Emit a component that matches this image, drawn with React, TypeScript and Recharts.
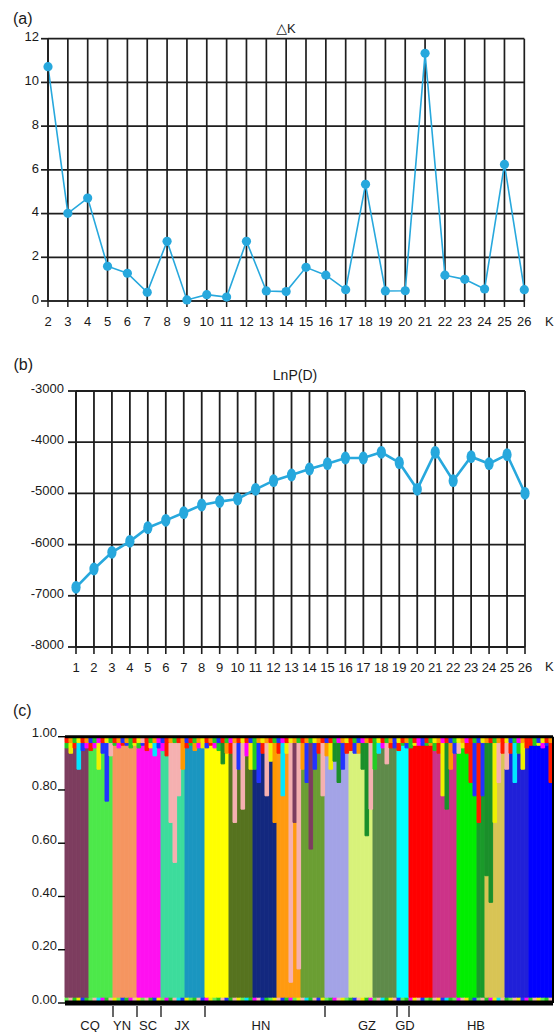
import React from "react";
import {
  LineChart,
  Line,
  XAxis,
  YAxis,
  CartesianGrid,
  BarChart,
  Bar,
  Cell,
  ReferenceLine,
} from "recharts";

const FONT = '"Liberation Sans", Arial, Helvetica, sans-serif';
const INK = "#1e1e1e";
const BLUE = "#27a8dd";

// ---------- (a) delta K ----------
const kA = [2, 3, 4, 5, 6, 7, 8, 9, 10, 11, 12, 13, 14, 15, 16, 17, 18, 19, 20, 21, 22, 23, 24, 25, 26];
const deltaK = [10.72, 4.01, 4.71, 1.59, 1.27, 0.4, 2.73, 0.05, 0.29, 0.18, 2.73, 0.46, 0.43, 1.54, 1.18, 0.52, 5.34, 0.46, 0.47, 11.33, 1.18, 0.99, 0.55, 6.25, 0.52];
const deltaKTicks = [0, 2, 4, 6, 8, 10, 12];

// ---------- (b) LnP(D) ----------
const kB = [1, 2, 3, 4, 5, 6, 7, 8, 9, 10, 11, 12, 13, 14, 15, 16, 17, 18, 19, 20, 21, 22, 23, 24, 25, 26];
const lnPD = [-6834, -6477, -6150, -5936, -5670, -5526, -5377, -5227, -5160, -5109, -4920, -4752, -4641, -4523, -4420, -4309, -4309, -4197, -4400, -4920, -4197, -4752, -4283, -4420, -4244, -4998];
const lnPTicks = [-8000, -7000, -6000, -5000, -4000, -3000];

// ---------- (c) STRUCTURE bar plot ----------
const clusterColors = ["#7d3d5f", "#4de84a", "#f59560", "#ff10f0", "#3ddc9c", "#1a96c0", "#ffff00", "#56731f", "#13287f", "#ff9a10", "#6b9e33", "#a3a3e6", "#d8f27a", "#5f8a4a", "#00ffff", "#ff0000", "#cc3388", "#00ee00", "#1a9a2a", "#d8c455", "#2020d8", "#0000ff"];
const clusterWidths = [6, 6, 6, 6, 6, 5, 6, 6, 6, 6, 6, 6, 6, 6, 3, 6, 6, 5, 2, 5, 6, 6];
const dripShares = [
  [0.02, 0.04, 0.02, 0.1, 0.03, 0.02],
  [0.03, 0.02, 0.1, 0.04, 0.22, 0.05],
  [0.01, 0.02, 0.01, 0.01, 0.02, 0.01],
  [0.02, 0.01, 0.03, 0.02, 0.05, 0.02],
  [0.03, 0.05, 0.3, 0.45, 0.2, 0.1],
  [0.02, 0.01, 0.03, 0.02, 0.02],
  [0.02, 0.01, 0.02, 0.03, 0.08, 0.04],
  [0.04, 0.3, 0.1, 0.25, 0.05, 0.1],
  [0.1, 0.15, 0.04, 0.2, 0.07, 0.3],
  [0.04, 0.2, 0.04, 0.9, 0.3, 0.85],
  [0.1, 0.15, 0.4, 0.1, 0.04, 0.2],
  [0.05, 0.1, 0.07, 0.15, 0.1, 0.04],
  [0.03, 0.04, 0.04, 0.1, 0.35, 0.25],
  [0.1, 0.04, 0.02, 0.08, 0.02, 0.02],
  [0.03, 0.01, 0.02],
  [0.02, 0.01, 0.01, 0.01, 0.01, 0.01],
  [0.03, 0.04, 0.2, 0.25, 0.1, 0.04],
  [0.04, 0.02, 0.04, 0.15, 0.2],
  [0.3, 0.2],
  [0.5, 0.6, 0.3, 0.15, 0.04],
  [0.1, 0.04, 0.15, 0.04, 0.1, 0.02],
  [0.01, 0.01, 0.01, 0.02, 0.01, 0.15],
];
const dripColors = ["gyrcbm", "rmybbp", "gmrbgy", "gbrycb", "mrpppo", "rgomy", "brmgko", "rpbpmy", "gbrpyo", "rcypvp", "obvbrp", "oykkbr", "rbokkp", "gcmprb", "rgb", "gymbgo", "grykob", "pyrrb", "rb", "kkypr", "prcgyr", "rgymbr"].join("");
const topColors =
  "rogyrobgmr" + "ygrobogryp" + "rgombrogro" + "brgoyrogbr" + "gmoryrbgoy" + "orgbmryogr" +
  "ogyorbrgmo" + "yrgbmorgyr" + "gobyrogrmb" + "rgyomrbgyo" + "mrgbyorgor" + "ybgmorrgby" + "ro";
const baseColors =
  "lpgybglpcm" + "gpylbgmpyl" + "pgbylmgpcb" + "ylgpbmylgp" + "bgpylcgmpb" + "glypbgmlyp" +
  "cgpbylgmpy" + "lgbpygmlpc" + "gypblgmypb" + "lgpybcglmp" + "ygblpgmycp" + "glpybmgpyl" + "gp";
const noisePalette: Record<string, string> = {
  r: "#ff1a00", g: "#22cc22", y: "#f0f000", b: "#2233ff", m: "#ff00ff", o: "#ff9900",
  p: "#f5b0b0", c: "#00e5ff", v: "#7d3d5f", k: "#1a8f2a", l: "#66ee55", n: "#13287f",
};
const topShare = 0.022;
const baseShare = 0.022;
const structureTicks = [0, 0.2, 0.4, 0.6, 0.8, 1];
const popNames = ["CQ", "YN", "SC", "JX", "HN", "GZ", "GD", "HB"];
const popLabelAt = [6.25, 14.25, 20.75, 29.25, 49, 75.5, 85, 102.75];
const popBreaks = [12, 18, 24, 35, 65, 83, 86];

const deltaKRows = kA.map((k, i) => ({ k, dk: deltaK[i] }));
const lnPRows = kB.map((k, i) => ({ k, lp: lnPD[i] }));

const structureRows: any[] = [];
clusterWidths.forEach((w, ci) => {
  for (let j = 0; j < w; j++) {
    const id = structureRows.length;
    const drip = dripShares[ci][j];
    structureRows.push({
      pos: id + 0.5,
      base: baseShare,
      main: 1 - baseShare - drip - topShare,
      drip,
      top: topShare,
      baseFill: noisePalette[baseColors[id] ?? "g"],
      mainFill: clusterColors[ci],
      dripFill: noisePalette[dripColors[id] ?? "r"],
      topFill: noisePalette[topColors[id] ?? "r"],
    });
  }
});
const nCols = structureRows.length;
const bottomTicks = [...popBreaks, ...popLabelAt].sort((a, b) => a - b);

function tickText(dy: number, fmt?: (v: any) => string) {
  return (p: any) => (
    <text
      x={p.x}
      y={p.y}
      dy={dy}
      textAnchor={p.textAnchor}
      fontSize={13}
      fontFamily={FONT}
      fill="#1a1a1a"
    >
      {fmt ? fmt(p.payload.value) : p.payload.value}
    </text>
  );
}

// population boundary marks and names share the bottom axis
function PopTick(p: any) {
  const v = p.payload.value;
  if (popBreaks.includes(v)) {
    return <line x1={p.x} x2={p.x} y1={p.y + 3} y2={p.y + 14} stroke="#000" strokeWidth={1.2} />;
  }
  return (
    <text x={p.x} y={p.y} dy={27} textAnchor="middle" fontSize={13} fontFamily={FONT} fill="#1a1a1a">
      {popNames[popLabelAt.indexOf(v)]}
    </text>
  );
}

function DeltaKChart() {
  return (
    <LineChart width={556} height={340} data={deltaKRows} margin={{ top: 38.7, right: 31.7, bottom: 0, left: 0 }}>
      <CartesianGrid stroke={INK} strokeWidth={1.7} />
      <XAxis
        dataKey="k"
        type="number"
        domain={[2, 26]}
        ticks={kA}
        interval={0}
        height={39}
        tickSize={6}
        tickMargin={0}
        axisLine={{ stroke: INK, strokeWidth: 1.7 }}
        tickLine={{ stroke: INK, strokeWidth: 1.5 }}
        tick={tickText(18.7)}
      />
      <YAxis
        type="number"
        domain={[0, 12]}
        ticks={deltaKTicks}
        interval={0}
        width={48}
        tickSize={7}
        tickMargin={2}
        axisLine={{ stroke: INK, strokeWidth: 1.7 }}
        tickLine={{ stroke: INK, strokeWidth: 1.7 }}
        tick={tickText(2.7)}
      />
      <Line
        dataKey="dk"
        stroke={BLUE}
        strokeWidth={1.6}
        dot={{ r: 4.6, fill: BLUE, stroke: BLUE, strokeWidth: 0 }}
        activeDot={false}
        isAnimationActive={false}
      />
    </LineChart>
  );
}

function LnPChart() {
  return (
    <LineChart width={556} height={350} data={lnPRows} margin={{ top: 51, right: 31, bottom: 0, left: 0 }}>
      <CartesianGrid stroke={INK} strokeWidth={1.8} />
      <XAxis
        dataKey="k"
        type="number"
        domain={[1, 26]}
        ticks={kB}
        interval={0}
        height={43}
        tickSize={7}
        tickMargin={0}
        axisLine={{ stroke: INK, strokeWidth: 1.8 }}
        tickLine={{ stroke: INK, strokeWidth: 1.6 }}
        tick={tickText(18)}
      />
      <YAxis
        type="number"
        domain={[-8000, -3000]}
        ticks={lnPTicks}
        interval={0}
        width={76}
        tickSize={8}
        tickMargin={4}
        axisLine={{ stroke: INK, strokeWidth: 1.7 }}
        tickLine={{ stroke: INK, strokeWidth: 1.8 }}
        tick={tickText(2)}
      />
      <Line
        dataKey="lp"
        stroke={BLUE}
        strokeWidth={2.6}
        dot={(p: any) => <ellipse key={p.index} cx={p.cx} cy={p.cy} rx={4.6} ry={6.4} fill={BLUE} />}
        activeDot={false}
        isAnimationActive={false}
      />
    </LineChart>
  );
}

function StructureChart() {
  return (
    <BarChart
      width={556}
      height={342}
      data={structureRows}
      margin={{ top: 46.7, right: 0, bottom: 0, left: 0 }}
      barGap={0}
      barCategoryGap={0}
      barSize={5}
    >
      <XAxis
        dataKey="pos"
        type="number"
        domain={[0, nCols]}
        ticks={bottomTicks}
        interval={0}
        height={29}
        tickSize={0}
        tickMargin={0}
        tickLine={false}
        axisLine={{ stroke: "#000", strokeWidth: 5 }}
        tick={PopTick}
      />
      <YAxis
        type="number"
        domain={[0, 1]}
        ticks={structureTicks}
        interval={0}
        width={65}
        tickSize={7}
        tickMargin={1}
        axisLine={false}
        tickLine={{ stroke: "#000", strokeWidth: 1.4 }}
        tick={tickText(0.5, (v) => Number(v).toFixed(2))}
      />
      <YAxis
        yAxisId="r"
        orientation="right"
        type="number"
        domain={[0, 1]}
        width={3}
        tick={false}
        tickLine={false}
        axisLine={{ stroke: "#000", strokeWidth: 2 }}
      />
      <Bar dataKey="base" stackId="s" barSize={5} isAnimationActive={false}>
        {structureRows.map((r, i) => (
          <Cell key={"b" + i} fill={r.baseFill} stroke={r.baseFill} strokeWidth={1} />
        ))}
      </Bar>
      <Bar dataKey="main" stackId="s" barSize={5} isAnimationActive={false}>
        {structureRows.map((r, i) => (
          <Cell key={"m" + i} fill={r.mainFill} stroke={r.mainFill} strokeWidth={1} />
        ))}
      </Bar>
      <Bar dataKey="drip" stackId="s" barSize={5} isAnimationActive={false}>
        {structureRows.map((r, i) => (
          <Cell key={"d" + i} fill={r.dripFill} stroke={r.dripFill} strokeWidth={1} />
        ))}
      </Bar>
      <Bar dataKey="top" stackId="s" barSize={5} isAnimationActive={false}>
        {structureRows.map((r, i) => (
          <Cell key={"t" + i} fill={r.topFill} stroke={r.topFill} strokeWidth={1} />
        ))}
      </Bar>
      <ReferenceLine y={1} stroke="#000" strokeWidth={3} />
    </BarChart>
  );
}

export default function App() {
  return (
    <div style={{ position: "absolute", left: 0, top: 0, width: 556, height: 1032, background: "#fff", fontFamily: FONT }}>
      <div style={{ position: "absolute", left: 0, top: 0 }}>
        <DeltaKChart />
      </div>
      <div style={{ position: "absolute", left: 0, top: 340 }}>
        <LnPChart />
      </div>
      <div style={{ position: "absolute", left: 0, top: 690 }}>
        <StructureChart />
      </div>
      <svg width={556} height={1032} style={{ position: "absolute", left: 0, top: 0, pointerEvents: "none" }}>
        <g fontFamily={FONT} fill="#1a1a1a">
          <text x={13} y={23.5} fontSize={16}>(a)</text>
          <text x={286} y={33.3} fontSize={13} textAnchor="middle">
            <tspan fontFamily='"DejaVu Sans", sans-serif' fontSize={14}>△</tspan>K
          </text>
          <text x={545} y={325.7} fontSize={13}>K</text>
          <text x={13.5} y={370} fontSize={16}>(b)</text>
          <text x={295} y={380} fontSize={14} textAnchor="middle">LnP(D)</text>
          <text x={545} y={671} fontSize={13}>K</text>
          <text x={13} y={716} fontSize={16}>(c)</text>
        </g>
      </svg>
    </div>
  );
}
